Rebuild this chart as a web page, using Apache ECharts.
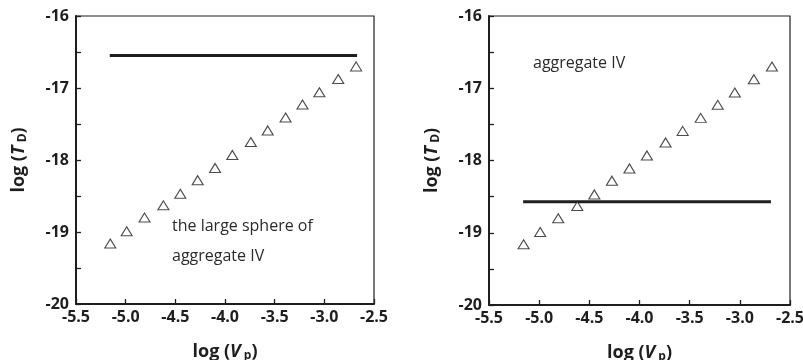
<!DOCTYPE html>
<html>
<head>
<meta charset="utf-8">
<script src="https://cdn.jsdelivr.net/npm/echarts@6/dist/echarts.min.js"></script>
<style>html,body{margin:0;padding:0;background:#fff}#c{width:803px;height:360px}</style>
</head>
<body>
<div id="c"></div>
<script>
// Data
const logVp = [-5.155, -4.99, -4.81, -4.62, -4.45, -4.275, -4.10, -3.926, -3.74, -3.57, -3.39, -3.22, -3.05, -2.86, -2.68];
const logTD = [-19.16, -18.99, -18.80, -18.63, -18.47, -18.28, -18.11, -17.93, -17.75, -17.59, -17.41, -17.23, -17.06, -16.875, -16.70];
const leftLineX = [-5.16, -2.67];
const leftLineY = -16.55;
const rightLineX = [-5.16, -2.69];
const rightLineY = -18.57;
const xTicks = [-5.5, -5.0, -4.5, -4.0, -3.5, -3.0, -2.5];
const yTicks = [-20, -19, -18, -17, -16];

const FONT = '"Open Sans", "Liberation Sans", sans-serif';
const INK = '#1e1e1e';

const chart = echarts.init(document.getElementById('c'));
const pts = logVp.map((x, i) => [x, logTD[i]]);

function xAxis(gi) {
  return {
    type: 'value', gridIndex: gi, min: -5.5, max: -2.5, interval: 0.5,
    axisLine: { lineStyle: { color: INK, width: 2 } },
    axisTick: { inside: true, length: 5, lineStyle: { color: INK, width: 1.3 } },
    splitLine: { show: false },
    axisLabel: { margin: 5, color: INK, fontFamily: FONT, fontWeight: 'bold', fontSize: 16,
      formatter: v => v.toFixed(1) },
    name: '{a|log (}{i|V}{s| p}{a|)}',
    nameLocation: 'middle', nameGap: 37,
    nameTextStyle: { rich: {
      a: { fontFamily: FONT, fontWeight: 'bold', fontSize: 18, color: INK },
      i: { fontFamily: FONT, fontWeight: 'bold', fontStyle: 'italic', fontSize: 18, color: INK },
      s: { fontFamily: FONT, fontWeight: 'bold', fontSize: 12, color: INK, padding: [9, 0, 0, 0] }
    } }
  };
}
function yAxis(gi, gap) {
  return {
    type: 'value', gridIndex: gi, min: -20, max: -16, interval: 0.5,
    axisLine: { lineStyle: { color: INK, width: 2 } },
    axisTick: { inside: true, length: 5, lineStyle: { color: INK, width: 1.3 } },
    splitLine: { show: false },
    axisLabel: { margin: 7, color: INK, fontFamily: FONT, fontWeight: 'bold', fontSize: 16,
      formatter: v => yTicks.includes(v) ? String(v) : '' },
    name: '{a|log (}{i|T}{s| D}{a|)}',
    nameLocation: 'middle', nameGap: gap, nameRotate: 90,
    nameTextStyle: { rich: {
      a: { fontFamily: FONT, fontWeight: 'bold', fontSize: 18, color: INK },
      i: { fontFamily: FONT, fontWeight: 'bold', fontStyle: 'italic', fontSize: 18, color: INK },
      s: { fontFamily: FONT, fontWeight: 'bold', fontSize: 12, color: INK, padding: [9, 0, 0, 0] }
    } }
  };
}
function scatter(gi) {
  return {
    type: 'scatter', xAxisIndex: gi, yAxisIndex: gi, data: pts,
    symbol: 'triangle', symbolSize: [11, 9],
    itemStyle: { color: '#fff', borderColor: INK, borderWidth: 1.1 }, z: 3
  };
}
function hline(gi, xs, y) {
  return {
    type: 'line', xAxisIndex: gi, yAxisIndex: gi, data: xs.map(x => [x, y]),
    symbol: 'none', lineStyle: { color: INK, width: 3 }, z: 2
  };
}

chart.setOption({
  animation: false,
  backgroundColor: '#fff',
  grid: [
    { left: 76, top: 16, width: 298, height: 288, show: true, borderColor: INK, borderWidth: 1.2, outerBoundsMode: 'none', containLabel: false },
    { left: 489, top: 16, width: 301, height: 289, show: true, borderColor: INK, borderWidth: 1.2, outerBoundsMode: 'none', containLabel: false }
  ],
  xAxis: [xAxis(0), xAxis(1)],
  yAxis: [yAxis(0, 47), yAxis(1, 47)],
  series: [scatter(0), hline(0, leftLineX, leftLineY), scatter(1), hline(1, rightLineX, rightLineY)],
  graphic: [
    { type: 'text', left: 172, top: 218, style: { text: 'the large sphere of', fontFamily: FONT, fontSize: 16, fill: '#2a2a2a' } },
    { type: 'text', left: 172, top: 248, style: { text: 'aggregate IV', fontFamily: FONT, fontSize: 16, fill: '#2a2a2a' } },
    { type: 'text', left: 533, top: 55, style: { text: 'aggregate IV', fontFamily: FONT, fontSize: 16, fill: '#2a2a2a' } }
  ]
});
</script>
</body>
</html>
